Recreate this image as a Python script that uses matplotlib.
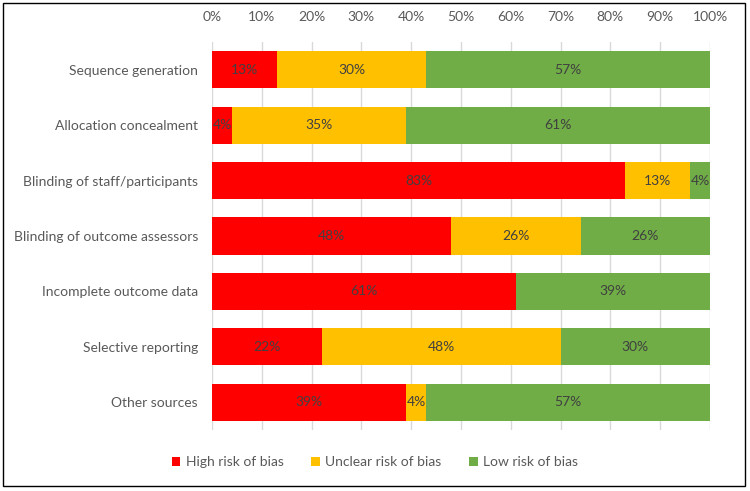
import matplotlib
matplotlib.use("Agg")
import matplotlib.pyplot as plt
from matplotlib.patches import Rectangle
import numpy as np

categories = ["Sequence generation", "Allocation concealment", "Blinding of staff/participants",
              "Blinding of outcome assessors", "Incomplete outcome data", "Selective reporting",
              "Other sources"]
high = [13, 4, 83, 48, 61, 22, 39]
unclear = [30, 35, 13, 26, 0, 48, 4]
low = [57, 61, 4, 26, 39, 30, 57]
series_names = ["High risk of bias", "Unclear risk of bias", "Low risk of bias"]
colors = ["#FF0000", "#FFC000", "#70AD47"]
xticks = [0, 10, 20, 30, 40, 50, 60, 70, 80, 90, 100]

plt.rcParams['font.family'] = ['Lato', 'DejaVu Sans']
fig = plt.figure(figsize=(7.5, 4.91), dpi=100)
ax = fig.add_axes([212/750, 1-430/491, (710-212)/750, (430-42)/491])

y = np.arange(len(categories))
left = np.zeros(len(categories))
bar_h = 0.67
for vals, name, c in zip([high, unclear, low], series_names, colors):
    vals = np.array(vals, dtype=float)
    ax.barh(y, vals, left=left, height=bar_h, color=c, label=name, zorder=3)
    for yi, v, l in zip(y, vals, left):
        if v > 0:
            ax.text(l + v/2, yi, f"{int(v)}%", ha="center", va="center",
                    fontsize=10, color="#404040", zorder=4)
    left += vals

ax.set_xlim(0, 100)
ax.set_ylim(6.5, -0.5)
ax.set_xticks(xticks)
ax.set_xticklabels([f"{t}%" for t in xticks])
ax.xaxis.tick_top()
ax.set_yticks(y)
ax.set_yticklabels(categories)
ax.tick_params(axis="both", length=0, labelsize=10, colors="#595959")
ax.tick_params(axis="x", pad=14)
ax.tick_params(axis="y", pad=10)
ax.grid(axis="x", color="#D9D9D9", linewidth=1, zorder=0)
for s in ax.spines.values():
    s.set_visible(False)

leg = fig.legend(loc="center", bbox_to_anchor=(0.5, 1-462/491), ncol=3, frameon=False,
                 fontsize=10, handlelength=0.6, handleheight=0.6, handletextpad=0.4,
                 columnspacing=2.0)
for t in leg.get_texts():
    t.set_color("#595959")

fig.patches.append(Rectangle((3/750, 1-486/491), (745-3)/750, (486-3)/491,
                             transform=fig.transFigure, fill=False, edgecolor="black",
                             linewidth=1))
fig.savefig("out.png", dpi=100)
